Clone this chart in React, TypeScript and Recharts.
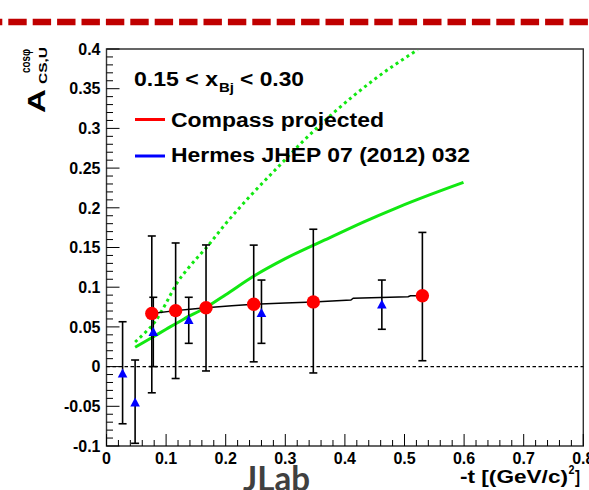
import React from 'react';
import {
  ComposedChart,
  XAxis,
  YAxis,
  Line,
  Scatter,
  ErrorBar,
  ReferenceLine,
  ReferenceArea,
} from 'recharts';

// ---------- data ----------
const compassX = [0.076, 0.116, 0.167, 0.247, 0.347, 0.53];
const compassY = [0.067, 0.0705, 0.0742, 0.0785, 0.0815, 0.0893];
const compassHi = [0.1645, 0.1557, 0.1532, 0.153, 0.173, 0.169];
const compassLo = [-0.033, -0.015, -0.0055, 0.006, -0.008, 0.0074];

const hermesX = [0.027, 0.048, 0.0785, 0.138, 0.26, 0.462];
const hermesY = [-0.0093, -0.046, 0.043, 0.058, 0.067, 0.0776];
const hermesHi = [0.0565, 0.0083, 0.0873, 0.0873, 0.109, 0.109];
const hermesLo = [-0.072, -0.0966, 0.0, 0.0293, 0.0293, 0.047];

const fitX = [0.076, 0.116, 0.14, 0.167, 0.21, 0.247, 0.3, 0.347, 0.41, 0.414, 0.506, 0.51, 0.53];
const fitY = [0.067, 0.0705, 0.0722, 0.0742, 0.0765, 0.0785, 0.0802, 0.0815, 0.0839, 0.0862, 0.088, 0.0893, 0.0893];

const greenX = [0.048, 0.075, 0.1, 0.13, 0.167, 0.2, 0.246, 0.3, 0.375, 0.431, 0.487, 0.543, 0.599];
const greenY = [0.0243, 0.036, 0.047, 0.06, 0.0745, 0.0905, 0.1135, 0.136, 0.1625, 0.182, 0.2, 0.2165, 0.232];

const dottedX = [0.048, 0.065, 0.08, 0.1, 0.118, 0.135, 0.17, 0.2, 0.24, 0.286, 0.33, 0.38, 0.45, 0.522];
const dottedY = [0.031, 0.043, 0.055, 0.08, 0.105, 0.122, 0.152, 0.18, 0.214, 0.25, 0.284, 0.319, 0.362, 0.399];

const xMajor = [0, 0.1, 0.2, 0.3, 0.4, 0.5, 0.6, 0.7, 0.8];
const xLabels = ['0', '0.1', '0.2', '0.3', '0.4', '0.5', '0.6', '0.7', '0.8'];
const yMajor = [-0.1, -0.05, 0, 0.05, 0.1, 0.15, 0.2, 0.25, 0.3, 0.35, 0.4];
const yLabels = ['-0.1', '-0.05', '0', '0.05', '0.1', '0.15', '0.2', '0.25', '0.3', '0.35', '0.4'];

// minor tick grids (every 0.02 on x, every 0.01 on y)
const xTicksAll: number[] = [];
for (let i = 0; i <= 40; i++) xTicksAll.push(Math.round(i * 0.02 * 1000) / 1000);
const yTicksAll: number[] = [];
for (let i = 0; i <= 50; i++) yTicksAll.push(Math.round((-0.1 + i * 0.01) * 1000) / 1000);

const compassData = compassX.map((x, i) => ({
  x,
  y: compassY[i],
  err: [compassY[i] - compassLo[i], compassHi[i] - compassY[i]],
}));
const hermesData = hermesX.map((x, i) => ({
  x,
  y: hermesY[i],
  err: [hermesY[i] - hermesLo[i], hermesHi[i] - hermesY[i]],
}));
const fitData = fitX.map((x, i) => ({ x, y: fitY[i] }));
const greenData = greenX.map((x, i) => ({ x, y: greenY[i] }));
const dottedData = dottedX.map((x, i) => ({ x, y: dottedY[i] }));

const FONT = '"Liberation Sans", Arial, Helvetica, sans-serif';

const XTick = (props: any) => {
  const { x, y, payload } = props;
  const v = payload.value;
  const idx = xMajor.findIndex((m) => Math.abs(m - v) < 1e-9);
  const len = idx >= 0 ? 12 : 6;
  return (
    <g>
      <line x1={x} x2={x} y1={y} y2={y - len} stroke="#000" strokeWidth={1} />
      {idx >= 0 && (
        <text x={x} y={y + 18} textAnchor="middle" fontFamily={FONT} fontWeight="bold" fontSize={16} fill="#000">
          {xLabels[idx]}
        </text>
      )}
    </g>
  );
};

const YTick = (props: any) => {
  const { x, y, payload } = props;
  const v = payload.value;
  const idx = yMajor.findIndex((m) => Math.abs(m - v) < 1e-9);
  const len = idx >= 0 ? 13 : 6.5;
  return (
    <g>
      <line x1={x} x2={x + len} y1={y} y2={y} stroke="#000" strokeWidth={1} />
      {idx >= 0 && (
        <text x={x - 6} y={y} dy="0.36em" textAnchor="end" fontFamily={FONT} fontWeight="bold" fontSize={16} fill="#000">
          {yLabels[idx]}
        </text>
      )}
    </g>
  );
};

const RedCircle = (p: any) => <circle cx={p.cx} cy={p.cy} r={6.7} fill="#ff0000" />;
const BlueTri = (p: any) => (
  <polygon
    points={`${p.cx},${p.cy - 5.5} ${p.cx - 4.8},${p.cy + 3.5} ${p.cx + 4.8},${p.cy + 3.5}`}
    fill="#0000ff"
  />
);

export default function App() {
  return (
    <div style={{ position: 'absolute', left: 0, top: 0, width: 589, height: 490, background: '#fff', overflow: 'hidden' }}>
      <ComposedChart width={589} height={490} margin={{ top: 49, right: 5.7, left: 0, bottom: 0 }}>
        <XAxis
          type="number"
          dataKey="x"
          domain={[0, 0.8]}
          ticks={xTicksAll}
          interval={0}
          tick={<XTick />}
          tickLine={false}
          axisLine={false}
          tickSize={0}
          tickMargin={0}
          height={44}
          allowDataOverflow
        />
        <YAxis
          type="number"
          domain={[-0.1, 0.4]}
          ticks={yTicksAll}
          interval={0}
          tick={<YTick />}
          tickLine={false}
          axisLine={false}
          tickSize={0}
          tickMargin={0}
          width={106.5}
          allowDataOverflow
        />
        <ReferenceLine y={0} stroke="#000" strokeDasharray="3.5 2.5" strokeWidth={1.2} />
        <Line
          data={dottedData}
          dataKey="y"
          type="monotone"
          stroke="#12e812"
          strokeWidth={3}
          strokeDasharray="3 3.5"
          dot={false}
          isAnimationActive={false}
        />
        <Line
          data={greenData}
          dataKey="y"
          type="monotone"
          stroke="#12e812"
          strokeWidth={3}
          dot={false}
          isAnimationActive={false}
        />
        <Line
          data={fitData}
          dataKey="y"
          type="linear"
          stroke="#000"
          strokeWidth={1.5}
          dot={false}
          isAnimationActive={false}
        />
        <Scatter data={hermesData} dataKey="y" shape={<BlueTri />} isAnimationActive={false}>
          <ErrorBar dataKey="err" direction="y" width={4} stroke="#000" strokeWidth={1.6} />
        </Scatter>
        <Scatter data={compassData} dataKey="y" shape={<RedCircle />} isAnimationActive={false}>
          <ErrorBar dataKey="err" direction="y" width={4} stroke="#000" strokeWidth={1.6} />
        </Scatter>
        <ReferenceArea x1={0} x2={0.8} y1={-0.1} y2={0.4} fill="none" stroke="#333" strokeWidth={1.4} />
      </ComposedChart>
      <svg
        width={589}
        height={490}
        style={{ position: 'absolute', left: 0, top: 0, pointerEvents: 'none' }}
      >
        {/* top banner dashed line */}
        <line x1={-16.1} x2={600} y1={22} y2={22} stroke="#c00000" strokeWidth={6.5} strokeDasharray="18.4 6" />
        {/* y-axis title */}
        <g transform="translate(45,113) rotate(-90)" fontFamily={FONT} fontWeight="bold" fill="#000">
          <text x={0} y={0} fontSize={24} textLength={24} lengthAdjust="spacingAndGlyphs">A</text>
          <text x={29} y={2} fontSize={11} textLength={37} lengthAdjust="spacingAndGlyphs">CS,U</text>
          <text x={40} y={-15} fontSize={12.5} textLength={24} lengthAdjust="spacingAndGlyphs">cosφ</text>
        </g>
        {/* x-axis title */}
        <g fontFamily={FONT} fontWeight="bold" fill="#000">
          <text x={460} y={483} fontSize={18} textLength={108} lengthAdjust="spacingAndGlyphs">-t [(GeV/c)</text>
          <text x={568.5} y={474} fontSize={12} textLength={6} lengthAdjust="spacingAndGlyphs">2</text>
          <text x={575} y={483} fontSize={18} textLength={5} lengthAdjust="spacingAndGlyphs">]</text>
        </g>
        {/* legend / annotation */}
        <g fontFamily={FONT} fontWeight="bold" fill="#000">
          <text x={134} y={86} fontSize={20} textLength={84} lengthAdjust="spacingAndGlyphs">0.15 &lt; x</text>
          <text x={219} y={92} fontSize={13} textLength={15} lengthAdjust="spacingAndGlyphs">Bj</text>
          <text x={240} y={86} fontSize={20} textLength={64} lengthAdjust="spacingAndGlyphs">&lt; 0.30</text>
          <line x1={135} x2={165} y1={119.5} y2={119.5} stroke="#ff0000" strokeWidth={3} />
          <text x={171} y={127} fontSize={20} textLength={213} lengthAdjust="spacingAndGlyphs">Compass projected</text>
          <line x1={135} x2={165} y1={156} y2={156} stroke="#0000ff" strokeWidth={3} />
          <text x={171} y={162} fontSize={20} textLength={299} lengthAdjust="spacingAndGlyphs">Hermes JHEP 07 (2012) 032</text>
        </g>
        {/* logo text */}
        <text x={243} y={491} fontFamily="Lato, 'Open Sans', sans-serif" fontWeight="bold" fontSize={35} fill="#404040" textLength={67} lengthAdjust="spacingAndGlyphs">
          JLab
        </text>
      </svg>
    </div>
  );
}
